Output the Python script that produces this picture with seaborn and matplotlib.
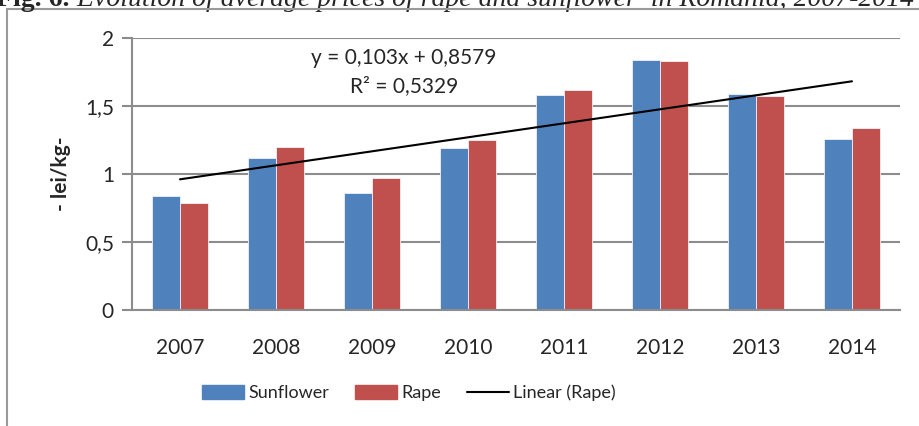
import numpy as np
import pandas as pd
import seaborn as sns
import matplotlib.pyplot as plt
from matplotlib.patches import Rectangle, Patch
from matplotlib.lines import Line2D

# data
years = ['2007', '2008', '2009', '2010', '2011', '2012', '2013', '2014']
sunflower = [0.84, 1.12, 0.86, 1.19, 1.58, 1.84, 1.59, 1.26]
rape = [0.79, 1.20, 0.97, 1.25, 1.62, 1.83, 1.57, 1.34]
yticks = [0, 0.5, 1, 1.5, 2]
ytick_labels = ['0', '0,5', '1', '1,5', '2']
eq_text = 'y = 0,103x + 0,8579'
r2_text = 'R² = 0,5329'
title_bold = 'Fig. 6.'
title_rest = ' Evolution of average prices of rape and sunflower  in Romania, 2007-2014'

df = pd.DataFrame({
    'year': years * 2,
    'price': sunflower + rape,
    'crop': ['Sunflower'] * len(years) + ['Rape'] * len(years),
})

sns.set_theme(style='white')
plt.rcParams['font.family'] = ['Lato', 'DejaVu Sans']

W, H = 919, 426
fig = plt.figure(figsize=(W / 100, H / 100), dpi=100)
ax = fig.add_axes([132 / W, 1 - 310 / H, (900 - 132) / W, (310 - 38) / H])

blue = '#4F81BD'
red = '#C0504D'
sns.barplot(data=df, x='year', y='price', hue='crop', palette=[blue, red],
            saturation=1, width=0.575, edgecolor='#eef2f8', linewidth=0.6,
            ax=ax, legend=False)

# linear trend of rape prices
xi = np.arange(1, len(years) + 1)
slope, intercept = np.polyfit(xi, rape, 1)
ax.plot(np.arange(len(years)), slope * xi + intercept, color='black', lw=1.5)

ax.set_ylim(0, 2)
ax.set_xlim(-0.5, len(years) - 0.5)
ax.set_yticks(yticks)
ax.set_yticklabels(ytick_labels)
ax.yaxis.grid(True, color='#8c8c8c', lw=1.5)
ax.set_axisbelow(True)
for s in ['top', 'right']:
    ax.spines[s].set_visible(False)
for s in ['left', 'bottom']:
    ax.spines[s].set_color('#8c8c8c')
    ax.spines[s].set_linewidth(1.5)
ax.tick_params(axis='y', left=True, length=7, width=1.5, color='#8c8c8c',
               labelsize=15, pad=6)
ax.tick_params(axis='x', bottom=False, labelsize=15, pad=14)
ax.set_xlabel('')
ax.set_ylabel('- lei/kg-', fontsize=15, fontweight='bold', labelpad=10)

fig.text(404 / W, 1 - 58 / H, eq_text, ha='center', va='center', fontsize=15)
fig.text(404 / W, 1 - 86 / H, r2_text, ha='center', va='center', fontsize=15)

handles = [Patch(color=blue), Patch(color=red), Line2D([], [], color='black', lw=1.5)]
fig.legend(handles, ['Sunflower', 'Rape', 'Linear (Rape)'], loc='center',
           bbox_to_anchor=(409 / W, 1 - 393 / H), ncol=3, frameon=False,
           fontsize=13, handlelength=2.3, handleheight=0.75, columnspacing=1.45,
           handletextpad=0.25)

# outer chart frame, running off the right and bottom edges
fig.patches.append(Rectangle((7 / W, -0.2), 1.2, 1.2 - 9 / H, transform=fig.transFigure,
                             fill=False, edgecolor='#9a9a9a', lw=1.5))

# caption above the chart, cut off at the top edge as in the source
t1 = fig.text(-0.004, 1 - 6 / H, title_bold, ha='left', va='baseline',
              fontsize=20, fontweight='bold', family='Liberation Serif')
ax.annotate(title_rest, xy=(1, 0), xycoords=t1, ha='left', va='bottom',
            fontsize=20, fontstyle='italic', family='Liberation Serif',
            annotation_clip=False)

fig.savefig('out.png', dpi=100)
